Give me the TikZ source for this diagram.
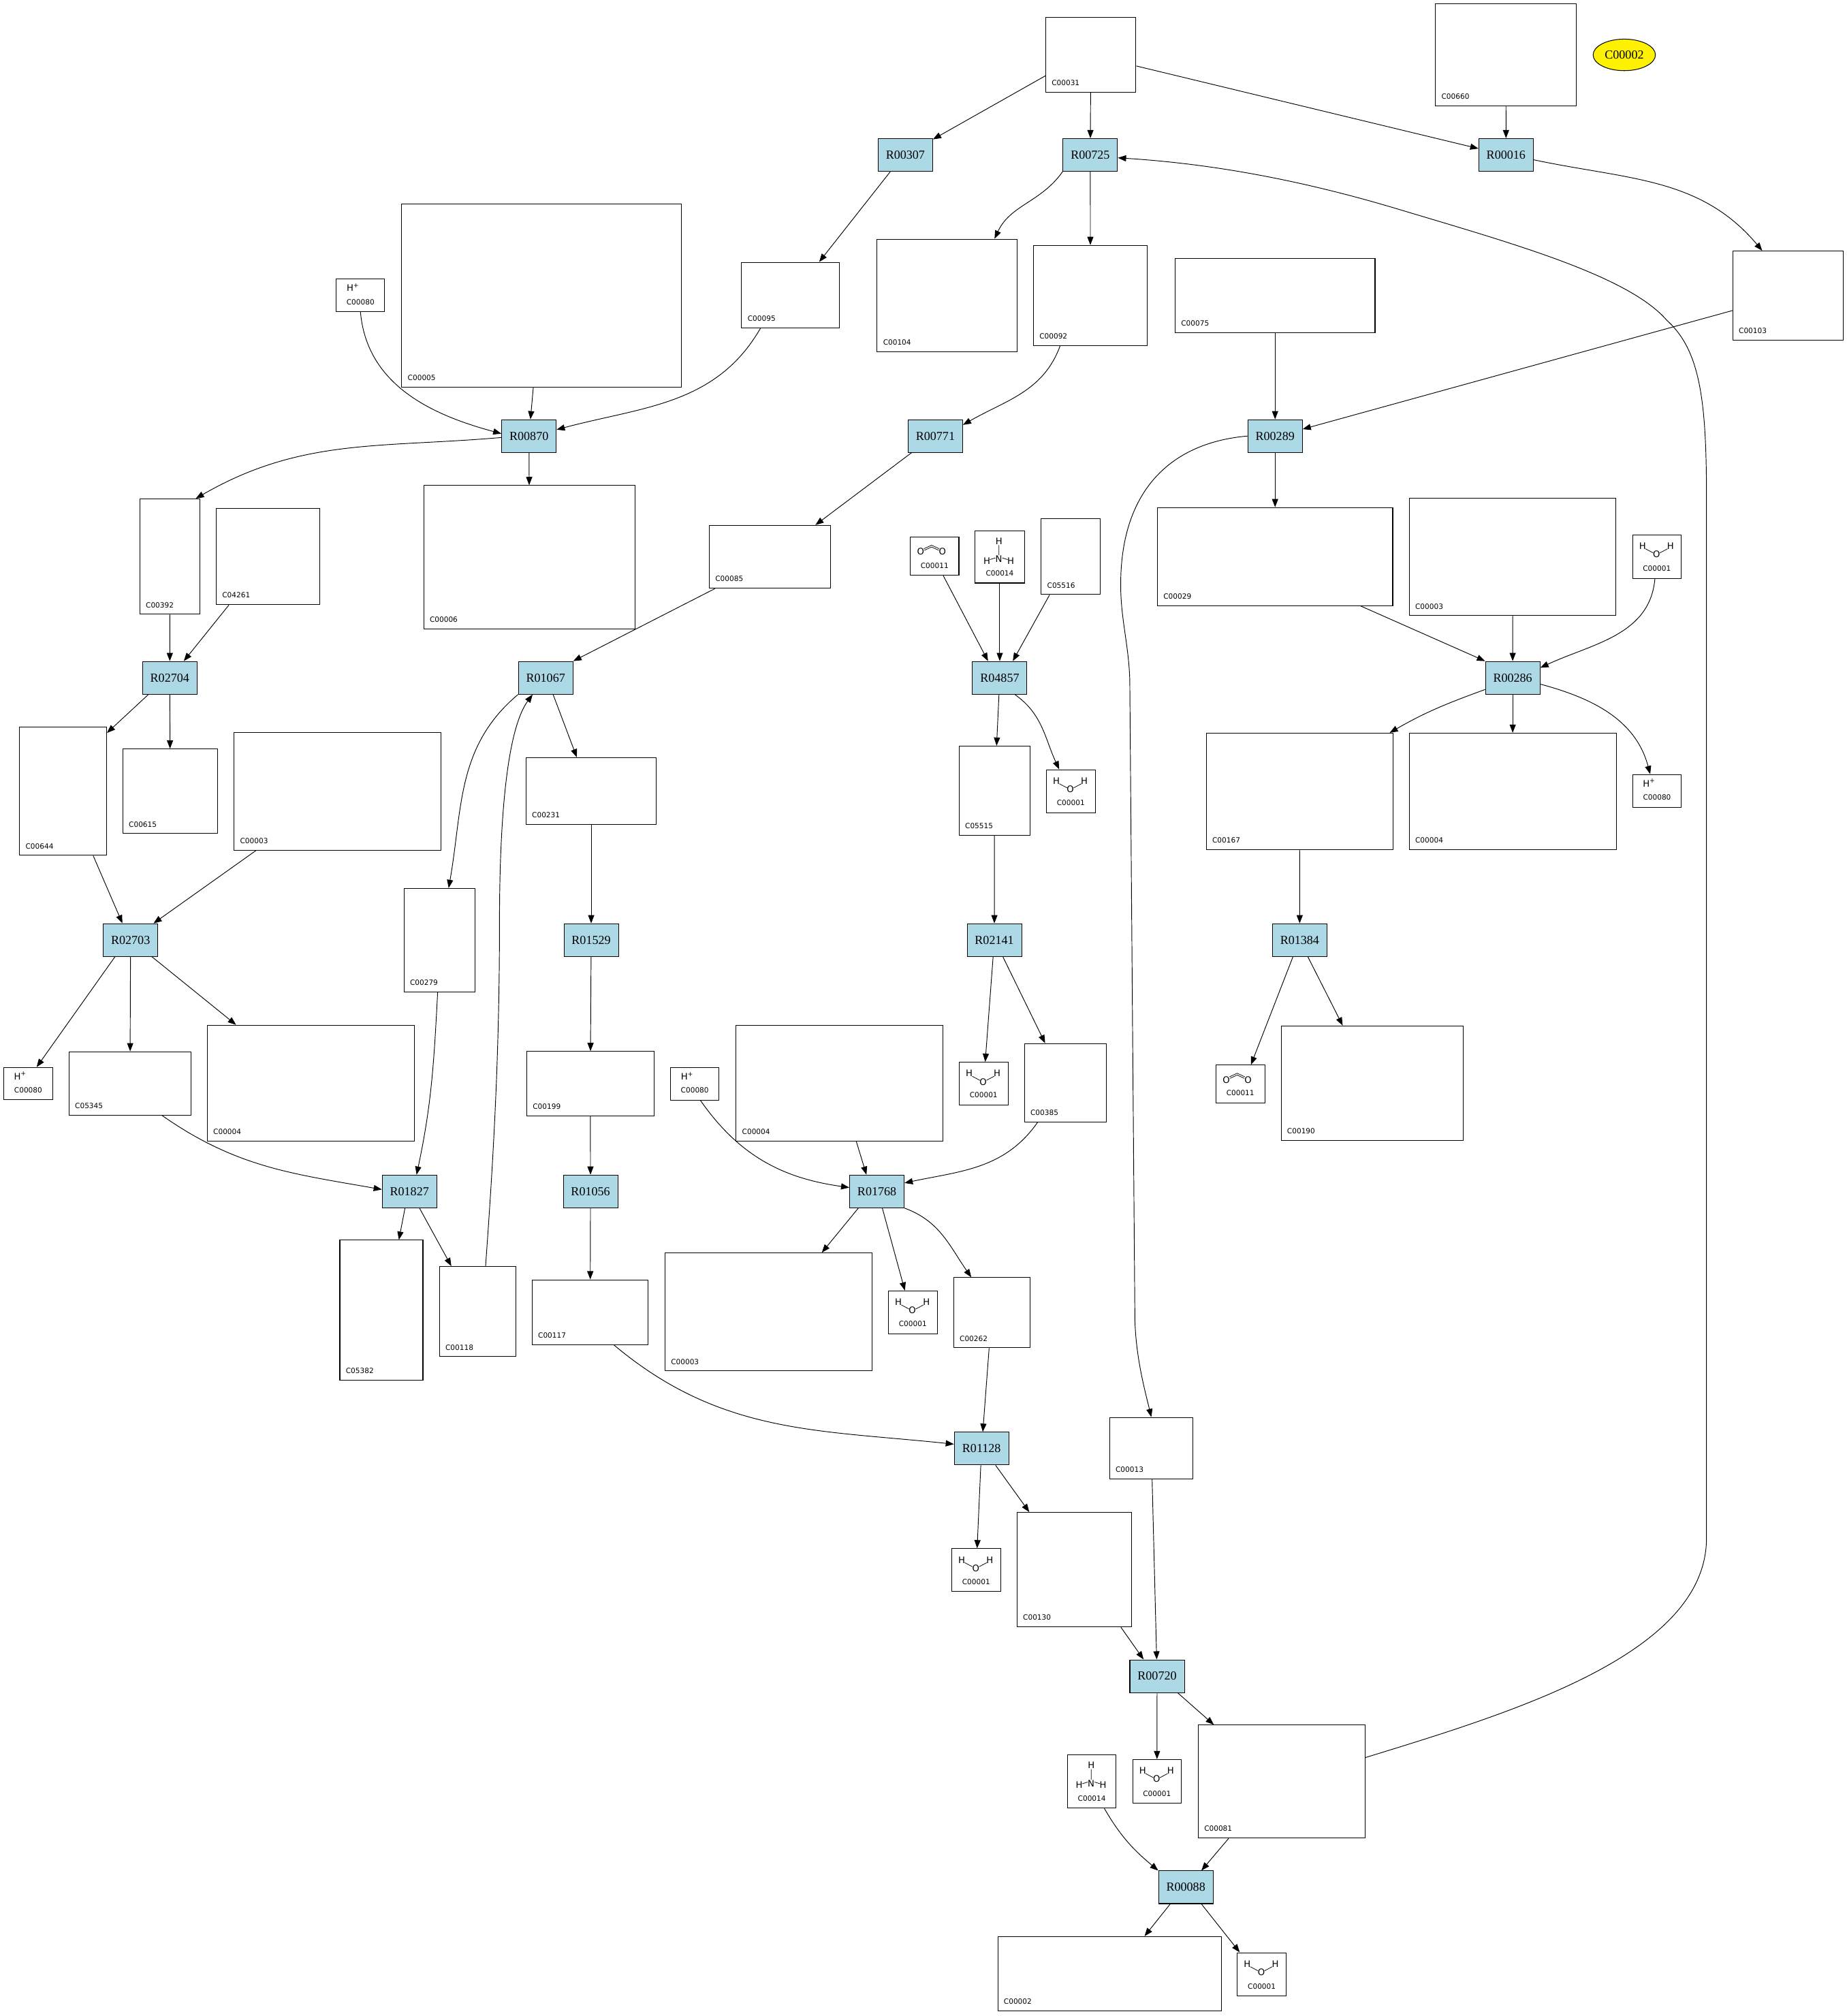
\documentclass[tikz,border=0pt]{standalone}
\usepackage{fontspec}
\setmainfont{Liberation Serif}
\newfontfamily\idfont{DejaVu Sans}
\usetikzlibrary{arrows.meta,shapes.geometric}
\definecolor{rxnblue}{RGB}{173,216,230}
\newcommand{\rxnfont}{\fontsize{9.6}{11}\selectfont}
\newcommand{\idsize}{\idfont\fontsize{5.6}{6.5}\selectfont}
\newcommand{\molsize}{\idfont\fontsize{7}{8}\selectfont}
\tikzset{
  hplus/.pic={\node[mol, anchor=base west] at (8.2,10) {H\textsuperscript{+}};},
  water/.pic={
    \node[mol] at (8.1,9.1) {H};
    \node[mol] at (19,15.5) {O};
    \node[mol] at (29.9,9.1) {H};
    \draw[bond] (10.4,11.2) -- (16.4,14.4) (21.6,14.4) -- (27.6,11.2);
  },
  nh3/.pic={
    \node[mol] at (18.8,8.3) {H};
    \node[mol] at (18.7,22.3) {N};
    \node[mol] at (9.4,23.6) {H};
    \node[mol] at (28,23.6) {H};
    \draw[bond] (18.8,11.3) -- (18.8,19.3) (11.8,22.6) -- (16,21.3) (21.4,21.3) -- (25.6,22.6);
  },
  co2/.pic={
    \node[mol] at (8.4,11.7) {O};
    \node[mol] at (25.3,11.7) {O};
    \draw[bond] (10.8,9.4) -- (16.85,6.6) -- (22.9,9.4) (11.2,10.6) -- (16.85,8) -- (22.5,10.6);
  },
}
\begin{document}
\begin{tikzpicture}[x=1pt, y=-1pt,
    rxn/.style={draw, fill=rxnblue, font=\rxnfont, minimum width=42.5pt, minimum height=25.5pt, inner sep=0pt, line width=0.55pt},
    cid/.style={font=\idsize, anchor=base west, inner sep=0pt, xshift=4.8pt, yshift=5.5pt},
    cidc/.style={font=\idsize, anchor=base, inner sep=0pt, yshift=5.8pt},
    cpd/.style n args={3}{draw, line width=0.55pt, inner sep=0pt, minimum width=#1, minimum height=#2, label={[cid]south west:#3}},
    sml/.style n args={3}{draw, line width=0.55pt, inner sep=0pt, minimum width=#1, minimum height=#2, label={[cidc]south:#3}},
    mol/.style={font=\molsize, inner sep=0pt},
    bond/.style={line width=0.4pt},
    rx/.style={-{Triangle[length=6.4pt, width=4.8pt]}, line width=0.5pt}]
\path[use as bounding box, fill=white] (0,0) rectangle (1440,1572);

% reactions
\node[rxn] (r00307) at (706,120.8) {R00307};
\node[rxn] (r00725) at (850.2,120.8) {R00725};
\node[rxn] (r00016) at (1174.4,120.8) {R00016};
\node[rxn] (r00870) at (412.5,340) {R00870};
\node[rxn] (r00771) at (729.4,340) {R00771};
\node[rxn] (r00289) at (994.3,340) {R00289};
\node[rxn] (r02704) at (132.4,528.5) {R02704};
\node[rxn] (r01067) at (425.5,528.5) {R01067};
\node[rxn] (r04857) at (779.6,528.5) {R04857};
\node[rxn] (r00286) at (1179.6,528.5) {R00286};
\node[rxn] (r02703) at (101.8,733) {R02703};
\node[rxn] (r01529) at (461,733) {R01529};
\node[rxn] (r02141) at (775.4,733) {R02141};
\node[rxn] (r01384) at (1013.5,733) {R01384};
\node[rxn] (r01827) at (319.3,929) {R01827};
\node[rxn] (r01056) at (460.5,929) {R01056};
\node[rxn] (r01768) at (683.8,929) {R01768};
\node[rxn] (r01128) at (765.4,1129.5) {R01128};
\node[rxn] (r00720) at (902.3,1307) {R00720};
\node[rxn] (r00088) at (924.7,1471.6) {R00088};

% compounds
\node[cpd={70.4pt}{58.6pt}{C00031}] (c00031) at (850.6,42.6) {};
\node[cpd={109.9pt}{79.6pt}{C00660}] (c00660) at (1174.3,42.7) {};
\node[draw, ellipse, fill=yellow, line width=0.55pt, inner sep=0pt, minimum width=48.6pt, minimum height=24.6pt, font=\rxnfont] (c00002a) at (1266.6,42.8) {C00002};
\node[sml={37.8pt}{25.5pt}{C00080}] (c00080a) at (281.1,230.3) {};
\node[cpd={217.9pt}{142.8pt}{C00005}] (c00005) at (422.2,230.4) {};
\node[cpd={76pt}{51.2pt}{C00095}] (c00095) at (616.3,230.1) {};
\node[cpd={109.1pt}{87.7pt}{C00104}] (c00104) at (738.5,230.3) {};
\node[cpd={88.9pt}{78pt}{C00092}] (c00092) at (850.3,230.3) {};
\node[cpd={155.9pt}{57.9pt}{C00075}] (c00075) at (994.3,230.3) {};
\node[cpd={86.4pt}{69.5pt}{C00103}] (c00103) at (1394.4,230.5) {};
\node[cpd={47pt}{90pt}{C00392}] (c00392) at (132.5,434) {};
\node[cpd={80.8pt}{74.8pt}{C04261}] (c04261) at (209,434.1) {};
\node[cpd={165pt}{111.9pt}{C00006}] (c00006) at (412.9,434.5) {};
\node[cpd={94.6pt}{49.1pt}{C00085}] (c00085) at (600.4,434.2) {};
\node[sml={37.9pt}{29.8pt}{C00011}] (c00011a) at (728.8,433.7) {};
\node[sml={38.3pt}{40.6pt}{C00014}] (c00014a) at (779.6,434.3) {};
\node[cpd={46.2pt}{59.1pt}{C05516}] (c05516) at (835,434) {};
\node[cpd={183.5pt}{76.5pt}{C00029}] (c00029) at (994.3,434) {};
\node[cpd={161.2pt}{91.7pt}{C00003}] (c00003r) at (1179.5,434.2) {};
\node[sml={38pt}{34pt}{C00001}] (c00001a) at (1292,434) {};
\node[cpd={67.9pt}{100.2pt}{C00644}] (c00644) at (49.2,616.9) {};
\node[cpd={73.9pt}{66pt}{C00615}] (c00615) at (132.7,617) {};
\node[cpd={161.3pt}{92pt}{C00003}] (c00003l) at (263.2,617) {};
\node[cpd={101.7pt}{52.2pt}{C00231}] (c00231) at (461,616.9) {};
\node[cpd={55.2pt}{69.7pt}{C05515}] (c05515) at (775.5,616.6) {};
\node[sml={38.1pt}{33.4pt}{C00001}] (c00001b) at (835,616.9) {};
\node[cpd={145.5pt}{90.7pt}{C00167}] (c00167) at (1013.4,617) {};
\node[cpd={161.4pt}{90.7pt}{C00004}] (c00004r) at (1179.6,617) {};
\node[sml={38.2pt}{25.6pt}{C00080}] (c00080r) at (1292.1,616.7) {};
\node[cpd={55.4pt}{80.6pt}{C00279}] (c00279) at (342.7,733) {};
\node[sml={38.4pt}{25.3pt}{C00080}] (c00080l) at (22,845) {};
\node[cpd={95.2pt}{49.5pt}{C05345}] (c05345) at (101.4,844.8) {};
\node[cpd={161.4pt}{90.4pt}{C00004}] (c00004l) at (242.3,844.6) {};
\node[cpd={99.1pt}{50.3pt}{C00199}] (c00199) at (460.3,845) {};
\node[sml={37.9pt}{25.3pt}{C00080}] (c00080m) at (541.8,845.2) {};
\node[cpd={161.4pt}{90.6pt}{C00004}] (c00004m) at (654.7,844.6) {};
\node[sml={38.1pt}{33.3pt}{C00001}] (c00001c) at (767,844.9) {};
\node[cpd={63.7pt}{61.1pt}{C00385}] (c00385) at (830.7,844.3) {};
\node[sml={38.1pt}{29.3pt}{C00011}] (c00011b) at (967.2,845.2) {};
\node[cpd={141.8pt}{89.2pt}{C00190}] (c00190) at (1069.9,844.6) {};
\node[cpd={64.8pt}{109pt}{C05382}] (c05382) at (297.4,1021.5) {};
\node[cpd={59.5pt}{70.3pt}{C00118}] (c00118) at (372.4,1022.7) {};
\node[cpd={90.6pt}{50.6pt}{C00117}] (c00117) at (460.2,1023.2) {};
\node[cpd={161.3pt}{92pt}{C00003}] (c00003b) at (599.2,1023) {};
\node[sml={38.1pt}{33.4pt}{C00001}] (c00001d) at (711.8,1023.3) {};
\node[cpd={59.5pt}{54.7pt}{C00262}] (c00262) at (773.4,1023.6) {};
\node[cpd={65.1pt}{48.1pt}{C00013}] (c00013) at (897.8,1129.3) {};
\node[sml={38.1pt}{33.5pt}{C00001}] (c00001e) at (761.2,1224.3) {};
\node[cpd={89.3pt}{89.2pt}{C00130}] (c00130) at (837.7,1223.9) {};
\node[sml={37.9pt}{41.3pt}{C00014}] (c00014b) at (851.4,1389.2) {};
\node[sml={38pt}{34pt}{C00001}] (c00001f) at (902.2,1389) {};
\node[cpd={130.1pt}{88.1pt}{C00081}] (c00081) at (999.4,1389.2) {};
\node[cpd={174.3pt}{58pt}{C00002}] (c00002b) at (865.2,1539) {};
\node[sml={38.2pt}{33.8pt}{C00001}] (c00001g) at (983.9,1539.5) {};

% small molecules
\pic at (c00080a.north west) {hplus};
\pic at (c00080r.north west) {hplus};
\pic at (c00080l.north west) {hplus};
\pic at (c00080m.north west) {hplus};
\pic at (c00001a.north west) {water};
\pic at (c00001b.north west) {water};
\pic at (c00001c.north west) {water};
\pic at (c00001d.north west) {water};
\pic at (c00001e.north west) {water};
\pic at (c00001f.north west) {water};
\pic at (c00001g.north west) {water};
\pic at (c00014a.north west) {nh3};
\pic at (c00014b.north west) {nh3};
\pic at (c00011a.north west) {co2};
\pic at (c00011b.north west) {co2};

% edges
\draw[rx] (c00031.205) -- (r00307);
\draw[rx] (c00031) -- (r00725);
\draw[rx] (c00031.-14) -- (r00016.167);
\draw[rx] (c00660) -- (r00016);
\draw[rx] (r00307.228) -- (c00095.49);
\draw[rx] (r00725.211) to[out=235, in=65] (c00104.50);
\draw[rx] (r00725) -- (c00092);
\draw[rx] (r00016.-10) to[out=-12, in=130] (c00103.120);
\draw[rx] (c00080a.south) to[out=-85, in=165] (r00870.175);
\draw[rx] (c00005) -- (r00870);
\draw[rx] (c00095.228) to[out=240, in=15] (r00870.13);
\draw[rx] (r00870.183) to[out=185, in=30] (c00392.66);
\draw[rx] (r00870) -- (c00006);
\draw[rx] (c00092.239) to[out=250, in=30] (r00771.22);
\draw[rx] (r00771.215) -- (c00085.35);
\draw[rx] (c00075) -- (r00289);
\draw[rx] (c00103.195) -- (r00289.14);
\draw[rx] (r00289) -- (c00029);
\draw[rx] (r00289.west) .. controls (915,345) and (876,380) .. (874,450) .. controls (873,480) and (880,500) .. (881,530) -- (885,1030) .. controls (886,1060) and (893,1085) .. (c00013.north);
\draw[rx] (c00392) -- (r02704);
\draw[rx] (c04261.231) -- (r02704.50);
\draw[rx] (c00085.210) -- (r01067.north east);
\draw[rx] (c00011a.294) -- (r04857.125);
\draw[rx] (c00014a) -- (r04857);
\draw[rx] (c05516.241) -- (r04857.52);
\draw[rx] (c00029.-30) -- (r00286.north west);
\draw[rx] (c00003r) -- (r00286);
\draw[rx] (c00001a.265) to[out=265, in=25] (r00286.20);
\draw[rx] (r02704.218) -- (c00644.53);
\draw[rx] (r02704) -- (c00615);
\draw[rx] (r01067.south west) to[out=220, in=80] (c00279.80);
\draw[rx] (c00118.80) .. controls (385,900) and (389.5,820) .. (389.5,720) .. controls (389.5,620) and (398,565) .. (r01067.232);
\draw[rx] (r01067.294) -- (c00231.113);
\draw[rx] (r04857) -- (c05515);
\draw[rx] (r04857.-48) to[out=-35, in=115] (c00001b.118);
\draw[rx] (r00286.203) to[out=200, in=30] (c00167.33);
\draw[rx] (r00286) -- (c00004r);
\draw[rx] (r00286.-13) to[out=-15, in=105] (c00080r.112);
\draw[rx] (c00644.295) -- (r02703.116);
\draw[rx] (c00003l.216) -- (r02703.36);
\draw[rx] (c00231) -- (r01529);
\draw[rx] (c05515) -- (r02141);
\draw[rx] (c00167) -- (r01384);
\draw[rx] (r02703.227) -- (c00080l.63);
\draw[rx] (r02703) -- (c05345);
\draw[rx] (r02703.322) -- (c00004l.142);
\draw[rx] (r01529) -- (c00199);
\draw[rx] (r02141) -- (c00001c);
\draw[rx] (r02141.297) -- (c00385.117);
\draw[rx] (r01384.248) -- (c00011b.61);
\draw[rx] (r01384.296) -- (c00190.117);
\draw[rx] (c00279.268) to[out=267, in=78] (r01827.67);
\draw[rx] (c05345.315) to[out=-35, in=170] (r01827.176);
\draw[rx] (c00199) -- (r01056);
\draw[rx] (c00080m.289) to[out=-55, in=172] (r01768.172);
\draw[rx] (c00004m.286) -- (r01768.122);
\draw[rx] (c00385.235) to[out=235, in=12] (r01768.17);
\draw[rx] (r01827.255) -- (c05382.76);
\draw[rx] (r01827.301) -- (c00118.120);
\draw[rx] (r01056) -- (c00117);
\draw[rx] (r01768.222) -- (c00003b.48);
\draw[rx] (r01768.288) -- (c00001d.110);
\draw[rx] (r01768.south east) to[out=-20, in=125] (c00262.120);
\draw[rx] (c00117.306) to[out=-40, in=174] (r01128.171);
\draw[rx] (c00262) -- (r01128);
\draw[rx] (r01128) -- (c00001e);
\draw[rx] (r01128.310) -- (c00130.128);
\draw[rx] (c00130.309) -- (r00720.129);
\draw[rx] (c00013) -- (r00720);
\draw[rx] (r00720) -- (c00001f);
\draw[rx] (r00720.321) -- (c00081.140);
\draw[rx] (c00081.16) .. controls (1180,1335) and (1330,1290) .. (1330.7,1200) -- (1330.7,400) .. controls (1331,320) and (1328,275) .. (1300,250) .. controls (1270,215) and (1180,190) .. (1090,163) .. controls (1020,142) and (950,128) .. (r00725.-6);
\draw[rx] (c00014b.295) to[out=-60, in=140] (r00088.north west);
\draw[rx] (c00081.227) -- (r00088.47);
\draw[rx] (r00088.227) -- (c00002b.47);
\draw[rx] (r00088.313) -- (c00001g.135);
\end{tikzpicture}
\end{document}
